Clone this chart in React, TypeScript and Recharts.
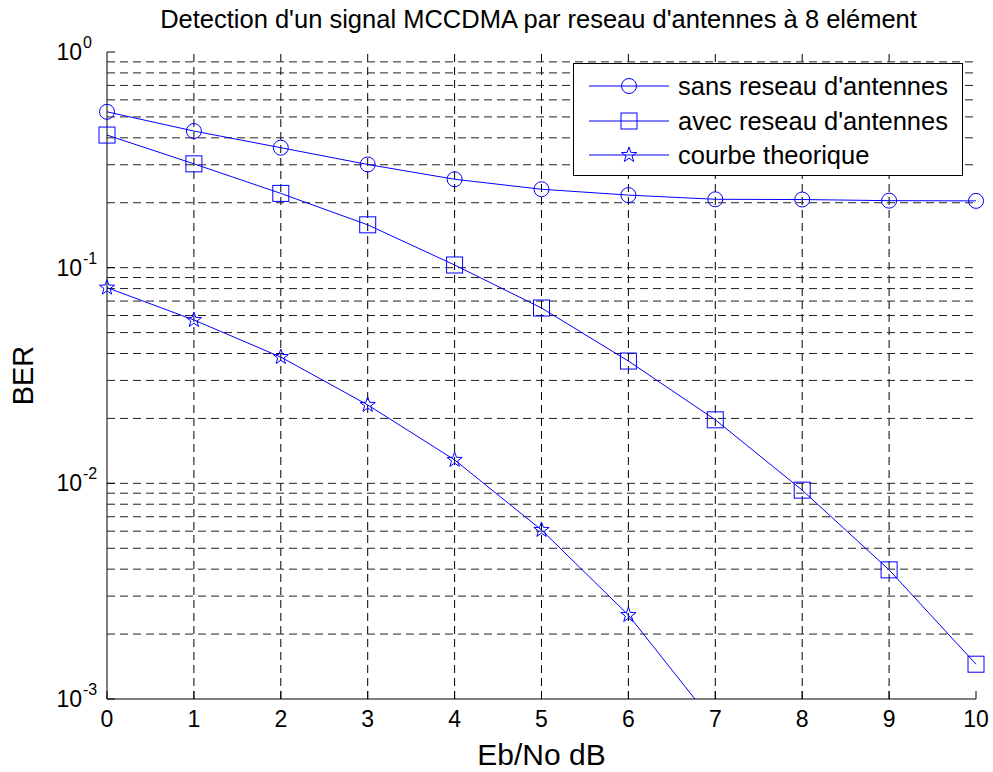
import React from "react";
import {
  LineChart,
  Line,
  XAxis,
  YAxis,
  ReferenceLine,
  Customized,
} from "recharts";

// Eb/No in dB
const ebno = [0, 1, 2, 3, 4, 5, 6, 7, 8, 9, 10];
// BER (log scale)
const sansReseau = [0.528, 0.43, 0.36, 0.301, 0.257, 0.231, 0.217, 0.2075, 0.207, 0.2045, 0.204];
const avecReseau = [0.412, 0.303, 0.221, 0.158, 0.1029, 0.065, 0.0369, 0.0197, 0.0093, 0.00397, 0.00145];
const theorique = [0.0808, 0.0572, 0.0385, 0.0231, 0.01284, 0.00608, 0.00245, 0.00076, 0.00019, 0.000037, 0.0000055];

const xTicks = [0, 1, 2, 3, 4, 5, 6, 7, 8, 9, 10];
const xGrid = [1, 2, 3, 4, 5, 6, 7, 8, 9];
const yTicks = [0.001, 0.01, 0.1, 1];
const yTickExp = ["-3", "-2", "-1", "0"];
const yMinor = [
  0.002, 0.003, 0.004, 0.005, 0.006, 0.007, 0.008, 0.009,
  0.02, 0.03, 0.04, 0.05, 0.06, 0.07, 0.08, 0.09,
  0.2, 0.3, 0.4, 0.5, 0.6, 0.7, 0.8, 0.9,
];
const yGrid = [...yMinor, 0.01, 0.1];

const labels = ["sans reseau d'antennes", "avec reseau d'antennes", "courbe theorique"];

const data = ebno.map((x, i) => ({
  x,
  sans: sansReseau[i],
  avec: avecReseau[i],
  theo: theorique[i],
}));

const BLUE = "#0000ff";
const FONT = "'Liberation Sans', Arial, sans-serif";
const W = 993;
const H = 772;
const PLOT = { left: 107, top: 52, right: 976, bottom: 699 };

function Square({ cx, cy, size = 8 }: any) {
  if (cx == null || cy == null) return null;
  return (
    <rect x={cx - size} y={cy - size} width={size * 2} height={size * 2} fill="none" stroke={BLUE} strokeWidth={1} />
  );
}

function Star({ cx, cy, r = 8 }: any) {
  if (cx == null || cy == null) return null;
  const pts: string[] = [];
  for (let k = 0; k < 10; k++) {
    const rad = k % 2 === 0 ? r : r * 0.4;
    const a = -Math.PI / 2 + (k * Math.PI) / 5;
    pts.push(`${cx + rad * Math.cos(a)},${cy + rad * Math.sin(a)}`);
  }
  return <polygon points={pts.join(" ")} fill="none" stroke={BLUE} strokeWidth={1} />;
}

function Circle({ cx, cy, r = 7.5 }: any) {
  if (cx == null || cy == null) return null;
  return <circle cx={cx} cy={cy} r={r} fill="none" stroke={BLUE} strokeWidth={1} />;
}

const markers = [Circle, Square, Star];

function LogTick({ x, y, payload }: any) {
  const idx = yTicks.indexOf(payload.value);
  return (
    <g fontFamily={FONT} fill="#000">
      <text x={x} y={y + 8} textAnchor="end" fontSize={23}>
        10
      </text>
      <text x={x + 1} y={y - 4} textAnchor="start" fontSize={16}>
        {yTickExp[idx]}
      </text>
    </g>
  );
}

function Texts() {
  const cx = (PLOT.left + PLOT.right) / 2;
  const cy = (PLOT.top + PLOT.bottom) / 2;
  return (
    <g fontFamily={FONT} fill="#000">
      <text x={cx - 3} y={28} textAnchor="middle" fontSize={25.5}>
        Detection d'un signal MCCDMA par reseau d'antennes à 8 elément
      </text>
      <text x={cx} y={765} textAnchor="middle" fontSize={30}>
        Eb/No dB
      </text>
      <text x={33} y={cy} textAnchor="middle" fontSize={29} transform={`rotate(-90 33 ${cy})`}>
        BER
      </text>
    </g>
  );
}

function LegendBox() {
  return (
    <div
      style={{
        position: "absolute",
        left: 573,
        top: 63,
        width: 390,
        height: 113,
        background: "#fff",
        border: "1px solid #000",
        boxSizing: "border-box",
        fontFamily: FONT,
      }}
    >
      {labels.map((name, i) => {
        const M = markers[i];
        return (
          <div
            key={name}
            style={{
              position: "absolute",
              left: 0,
              top: 22 + 34.5 * i - 17,
              height: 34,
              display: "flex",
              alignItems: "center",
            }}
          >
            <svg width={100} height={34} style={{ display: "block" }}>
              <line x1={15} x2={95} y1={17} y2={17} stroke={BLUE} strokeWidth={1} />
              <M cx={55} cy={17} />
            </svg>
            <span style={{ fontSize: 25.5, marginLeft: 4, lineHeight: "34px", color: "#000" }}>{name}</span>
          </div>
        );
      })}
    </div>
  );
}

export default function App() {
  return (
    <div style={{ position: "absolute", left: 0, top: 0, width: W, height: H, background: "#fff" }}>
      <LineChart
        width={W}
        height={H}
        data={data}
        margin={{ top: PLOT.top, right: W - PLOT.right, bottom: 0, left: 0 }}
      >
        <XAxis
          xAxisId="b"
          dataKey="x"
          type="number"
          domain={[0, 10]}
          ticks={xTicks}
          interval={0}
          height={H - PLOT.bottom}
          tickSize={-8}
          tickMargin={20}
          axisLine={{ stroke: "#000" }}
          tickLine={{ stroke: "#000" }}
          tick={{ fontSize: 23, fill: "#000", fontFamily: FONT }}
        />
        <XAxis
          xAxisId="t"
          orientation="top"
          dataKey="x"
          type="number"
          domain={[0, 10]}
          ticks={xTicks}
          interval={0}
          height={0}
          tickSize={-8}
          tick={false}
          axisLine={{ stroke: "#000" }}
          tickLine={{ stroke: "#000" }}
        />
        <YAxis
          yAxisId="lm"
          scale="log"
          type="number"
          domain={[0.001, 1]}
          allowDataOverflow
          ticks={yMinor}
          interval={0}
          width={0}
          tickSize={-6}
          tick={false}
          axisLine={false}
          tickLine={{ stroke: "#000" }}
        />
        <YAxis
          yAxisId="l"
          scale="log"
          type="number"
          domain={[0.001, 1]}
          allowDataOverflow
          ticks={yTicks}
          interval={0}
          width={PLOT.left}
          tickSize={-8}
          tickMargin={33}
          axisLine={{ stroke: "#000" }}
          tickLine={{ stroke: "#000" }}
          tick={<LogTick />}
        />
        <YAxis
          yAxisId="r"
          orientation="right"
          scale="log"
          type="number"
          domain={[0.001, 1]}
          allowDataOverflow
          ticks={yTicks}
          interval={0}
          width={0}
          tickSize={-8}
          tick={false}
          axisLine={{ stroke: "#000" }}
          tickLine={{ stroke: "#000" }}
        />
        <YAxis
          yAxisId="rm"
          orientation="right"
          scale="log"
          type="number"
          domain={[0.001, 1]}
          allowDataOverflow
          ticks={yMinor}
          interval={0}
          width={0}
          tickSize={-6}
          tick={false}
          axisLine={false}
          tickLine={{ stroke: "#000" }}
        />

        {xGrid.map((v) => (
          <ReferenceLine
            key={"x" + v}
            xAxisId="b"
            yAxisId="l"
            x={v}
            stroke="#000"
            strokeDasharray="8 5"
            strokeWidth={1}
          />
        ))}
        {yGrid.map((v) => (
          <ReferenceLine
            key={"y" + v}
            xAxisId="b"
            yAxisId="l"
            y={v}
            stroke="#222"
            strokeDasharray="8 5"
            strokeWidth={1}
          />
        ))}

        <Line
          xAxisId="b"
          yAxisId="l"
          dataKey="sans"
          stroke={BLUE}
          strokeWidth={1}
          dot={(p: any) => <Circle key={"c" + p.index} cx={p.cx} cy={p.cy} />}
          activeDot={false}
          isAnimationActive={false}
        />
        <Line
          xAxisId="b"
          yAxisId="l"
          dataKey="avec"
          stroke={BLUE}
          strokeWidth={1}
          dot={(p: any) => <Square key={"s" + p.index} cx={p.cx} cy={p.cy} />}
          activeDot={false}
          isAnimationActive={false}
        />
        <Line
          xAxisId="b"
          yAxisId="l"
          dataKey="theo"
          stroke={BLUE}
          strokeWidth={1}
          dot={(p: any) => <Star key={"t" + p.index} cx={p.cx} cy={p.cy} />}
          activeDot={false}
          isAnimationActive={false}
        />
        <Customized component={<Texts />} />
      </LineChart>
      <LegendBox />
    </div>
  );
}
